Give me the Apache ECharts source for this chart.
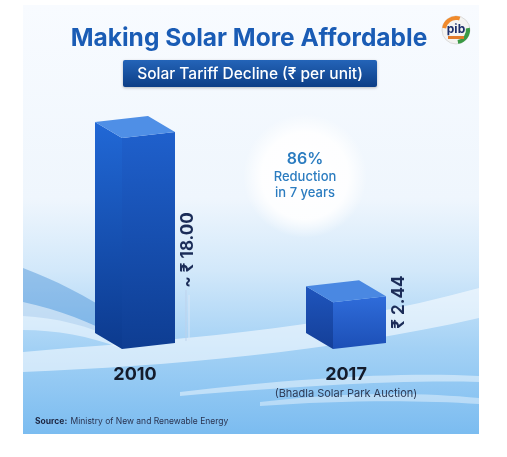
<!DOCTYPE html>
<html><head><meta charset="utf-8">
<script src="https://cdn.jsdelivr.net/npm/echarts@6/dist/echarts.min.js"></script>
<style>html,body{margin:0;padding:0;background:#fff}#c{width:507px;height:457px}</style>
</head><body><div id="c"></div>
<script>
// ---- data ----
const categories = ['2010', '2017'];
const tariffValues = [18.00, 2.44];
const valueLabels = ['~ \u20B9 18.00', '\u20B9 2.44'];
const categoryNotes = ['', '(Bhadla Solar Park Auction)'];
const reductionLines = ['86%', 'Reduction', 'in 7 years'];
const titleText = 'Making Solar More Affordable';
const subtitleText = 'Solar Tariff Decline (\u20B9 per unit)';
const sourceText = 'Ministry of New and Renewable Energy';

const Y_MIN = -2, Y_MAX = 20;
const FF = "Inter, 'Noto Sans', 'DejaVu Sans', sans-serif";

const chart = echarts.init(document.getElementById('c'));

function grad(c1, c2) {
  return {type: 'linear', x: 0, y: 0, x2: 0, y2: 1, colorStops: [{offset: 0, color: c1}, {offset: 1, color: c2}]};
}

const boxStyles = [
  {left: grad('#2168d6', '#0c3a8e'), right: grad('#1f60cc', '#0e3d92'), top: '#4f8fe6'},
  {left: grad('#1f55bd', '#143f98'), right: grad('#2f6cda', '#1c4fb6'), top: '#4a88e2'}
];

function renderItem(params, api) {
  const idx = api.value(0);
  const v = api.value(1);
  const topP = api.coord([idx, v]);
  const baseP = api.coord([idx, Y_MIN]);
  const fx = topP[0] - 13;
  const ty = topP[1], by = baseP[1];
  const lw = 27, ld = 16, rw = 53, rd = 6;
  const st = boxStyles[params.dataIndex];
  const h = by - ty;
  const labelY = by - Math.min(h, 99);
  const labelX = fx + 66;
  const children = [
    {type: 'polygon', shape: {points: [[fx - lw, ty - ld], [fx, ty], [fx, by], [fx - lw, by - ld]]}, style: {fill: st.left}},
    {type: 'polygon', shape: {points: [[fx, ty], [fx + rw, ty - rd], [fx + rw, by - rd], [fx, by]]}, style: {fill: st.right}},
    {type: 'polygon', shape: {points: [[fx - lw, ty - ld], [fx - lw + rw, ty - ld - rd], [fx + rw, ty - rd], [fx, ty]]}, style: {fill: st.top}},
    {type: 'text', x: labelX, y: labelY, rotation: Math.PI / 2,
      style: {text: valueLabels[params.dataIndex], fill: '#1b2c58', font: 'bold 17px ' + FF, align: 'center', verticalAlign: 'middle'}}
  ];
  const lineTop = labelY + 40, lineBot = by - 8;
  if (lineBot - lineTop > 20) {
    children.push({type: 'line', shape: {x1: labelX - 2, y1: lineTop, x2: labelX - 2, y2: lineBot}, style: {stroke: 'rgba(190,210,235,0.9)', lineWidth: 1}});
    children.push({type: 'line', shape: {x1: labelX + 1, y1: lineTop + 5, x2: labelX + 1, y2: lineBot}, style: {stroke: 'rgba(220,232,246,0.9)', lineWidth: 1}});
  }
  return {type: 'group', children: children};
}

function renderBackground() {
  const p = (d, fill) => ({type: 'path', shape: {pathData: d}, style: {fill: fill}});
  return {type: 'group', children: [
    {type: 'rect', shape: {x: 23, y: 5, width: 456, height: 429},
      style: {fill: {type: 'linear', x: 0, y: 0, x2: 0, y2: 1, colorStops: [
        {offset: 0, color: '#f8fbff'}, {offset: 0.45, color: '#eff6fd'}, {offset: 0.62, color: '#d2e8fa'},
        {offset: 0.8, color: '#a3d1f5'}, {offset: 1, color: '#7bbcf0'}]}}},
    p('M23,268 C55,280 85,295 120,318 L120,342 C90,325 55,318 23,316 Z', 'rgba(70,145,215,0.45)'),
    p('M23,302 C60,310 90,322 120,338 L120,348 C90,336 55,330 23,330 Z', 'rgba(255,255,255,0.5)'),
    p('M23,352 C160,340 320,332 479,288 L479,318 C330,352 170,366 23,372 Z', 'rgba(255,255,255,0.55)'),
    p('M180,392 C300,378 400,372 479,376 L479,382 C400,380 300,386 180,396 Z', 'rgba(255,255,255,0.45)'),
    p('M260,402 C340,392 420,392 479,398 L479,404 C420,400 340,400 260,406 Z', 'rgba(255,255,255,0.4)'),
    {type: 'circle', shape: {cx: 305, cy: 176, r: 62},
      style: {fill: {type: 'radial', x: 0.5, y: 0.5, r: 0.5, colorStops: [
        {offset: 0, color: 'rgba(255,255,255,1)'}, {offset: 0.7, color: 'rgba(255,255,255,0.9)'}, {offset: 1, color: 'rgba(255,255,255,0)'}]}}}
  ]};
}

const overlay = [
  {type: 'text', z: 10, x: 249, y: 39, style: {text: titleText, font: 'bold 24.5px ' + FF, fill: '#1a5cb5', align: 'center', verticalAlign: 'middle'}},
  {type: 'rect', z: 10, shape: {x: 123, y: 60, width: 254, height: 27, r: 2},
    style: {fill: grad('#2464b8', '#0c3e86'), shadowBlur: 3, shadowColor: 'rgba(0,0,0,0.25)', shadowOffsetY: 1}},
  {type: 'text', z: 11, x: 250, y: 74, style: {text: subtitleText, font: '500 15.5px ' + FF, fill: '#ffffff', align: 'center', verticalAlign: 'middle'}},
  {type: 'circle', z: 10, shape: {cx: 456, cy: 30, r: 14}, style: {fill: '#f4f4f2', stroke: '#dcdcdc', lineWidth: 1}},
  {type: 'arc', z: 11, shape: {cx: 456, cy: 30, r: 12, startAngle: Math.PI * 1.05, endAngle: Math.PI * 1.6}, style: {stroke: '#f08a2c', lineWidth: 4, fill: null}},
  {type: 'arc', z: 11, shape: {cx: 456, cy: 30, r: 12, startAngle: -Math.PI * 0.05, endAngle: Math.PI * 0.45}, style: {stroke: '#3a9a45', lineWidth: 4, fill: null}},
  {type: 'text', z: 12, x: 456, y: 29, style: {text: 'pib', font: 'bold 12px ' + FF, fill: '#1d2f6b', align: 'center', verticalAlign: 'middle'}},
  {type: 'rect', z: 12, shape: {x: 448, y: 36, width: 16, height: 3}, style: {fill: '#e07a2a'}},
  {type: 'text', z: 10, x: 305, y: 159, style: {text: reductionLines[0], font: '600 16px ' + FF, fill: '#2b7cc0', align: 'center', verticalAlign: 'middle'}},
  {type: 'text', z: 10, x: 305, y: 177, style: {text: reductionLines[1], font: '500 13px ' + FF, fill: '#2b7cc0', align: 'center', verticalAlign: 'middle'}},
  {type: 'text', z: 10, x: 305, y: 193, style: {text: reductionLines[2], font: '500 13px ' + FF, fill: '#2b7cc0', align: 'center', verticalAlign: 'middle'}},
  {type: 'text', z: 10, x: 35, y: 421, style: {text: '{b|Source:} {n|' + sourceText + '}', verticalAlign: 'middle',
    rich: {b: {font: 'bold 8.5px ' + FF, fill: '#1c2540'}, n: {font: '8.5px ' + FF, fill: '#2a3350'}}}}
];

chart.setOption({
  animation: false,
  backgroundColor: '#ffffff',
  grid: {left: 29.5, width: 422, top: 117, bottom: 108, containLabel: false},
  xAxis: {
    type: 'category', data: categories, z: 5,
    axisLine: {show: false}, axisTick: {show: false}, splitLine: {show: false},
    axisLabel: {
      interval: 0, hideOverlap: false, showMinLabel: true, showMaxLabel: true,
      margin: 15,
      formatter: function (val, i) {
        return categoryNotes[i] ? '{yr|' + val + '}\n{note|' + categoryNotes[i] + '}' : '{yr|' + val + '}';
      },
      rich: {
        yr: {fontSize: 18, fontWeight: 'bold', color: '#141b2b', fontFamily: FF, lineHeight: 22},
        note: {fontSize: 11, color: '#2d3a55', fontFamily: FF, lineHeight: 16}
      }
    }
  },
  yAxis: {type: 'value', min: Y_MIN, max: Y_MAX, show: false, splitLine: {show: false}},
  graphic: overlay,
  series: [
    {type: 'custom', coordinateSystem: 'none', z: 0, silent: true, renderItem: renderBackground, data: [0], clip: false},
    {type: 'custom', z: 2, renderItem: renderItem, data: tariffValues.map((v, i) => [i, v]), encode: {x: 0, y: 1}, clip: false}
  ]
});
</script>
</body></html>
